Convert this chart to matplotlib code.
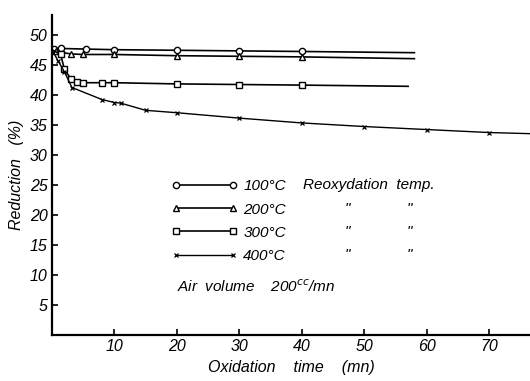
import matplotlib
matplotlib.use("Agg")
import matplotlib.pyplot as plt
from matplotlib.lines import Line2D

plt.rcParams['font.family'] = ['Liberation Sans', 'DejaVu Sans']
plt.rcParams['font.style'] = 'italic'

# 100 C reoxydation
t100 = [0.3, 1.5, 5.5, 10, 20, 30, 40, 58]
r100 = [47.6, 47.7, 47.6, 47.5, 47.4, 47.3, 47.2, 47.0]
# 200 C
t200 = [0.6, 3, 5, 10, 20, 30, 40, 58]
r200 = [47.2, 46.8, 46.7, 46.7, 46.5, 46.4, 46.3, 46.0]
# 300 C
t300 = [0, 1.4, 2, 3, 4, 5, 8, 10, 20, 30, 40, 57]
r300 = [47.5, 46.7, 44.2, 42.7, 42.2, 42.0, 42.0, 42.0, 41.8, 41.7, 41.6, 41.4]
# 400 C
t400 = [0, 1, 2, 3.2, 8, 10, 11, 15, 20, 30, 40, 50, 60, 70, 77]
r400 = [47.5, 45.6, 43.8, 41.2, 39.2, 38.7, 38.6, 37.4, 37.0, 36.1, 35.3, 34.7, 34.2, 33.7, 33.5]

xticks = [10, 20, 30, 40, 50, 60, 70]
yticks = [5, 10, 15, 20, 25, 30, 35, 40, 45, 50]
labels = ['100°C', '200°C', '300°C', '400°C']

fig = plt.figure(figsize=(5.30, 3.81), dpi=100)
ax = fig.add_axes([0.098, 0.121, 0.902, 0.84])

kw = dict(color='black', lw=1.2, mfc='white', mec='black', mew=1.0, ms=4.5)
xkw = dict(color='black', lw=1.0, ms=3.5, mew=0.9)
ax.plot(t100, r100, marker='o', markevery=list(range(len(t100) - 1)), **kw)
ax.plot(t200, r200, marker='^', markevery=list(range(len(t200) - 1)), **kw)
ax.plot(t300, r300, marker='s', markevery=list(range(1, len(t300) - 1)), **kw)
ax.plot(t400, r400, marker='x', markevery=list(range(1, len(t400) - 1)), **xkw)

ax.set_xlim(0, 76.5)
ax.set_ylim(0, 53.3)
ax.set_xticks(xticks)
ax.set_yticks(yticks)
ax.tick_params(direction='in', length=4, width=1.2, labelsize=11.5, pad=3)
for s in ['top', 'right']:
    ax.spines[s].set_visible(False)
for s in ['left', 'bottom']:
    ax.spines[s].set_linewidth(1.6)

ax.set_ylabel('Reduction   (%)', fontsize=11.5, labelpad=4)
ax.set_xlabel('Oxidation    time    (mn)', fontsize=11.5, labelpad=4)

handles = [
    Line2D([], [], marker='o', **kw),
    Line2D([], [], marker='^', **kw),
    Line2D([], [], marker='s', **kw),
    Line2D([], [], marker='x', **xkw),
]
ax.legend(handles, labels, loc='upper left', bbox_to_anchor=(0.25, 0.486),
          frameon=False, numpoints=2, handlelength=4.3, handletextpad=0.4,
          labelspacing=0.6, fontsize=11, borderpad=0, borderaxespad=0)

ax.text(0.525, 0.469, 'Reoxydation  temp.', transform=ax.transAxes,
        fontsize=11, va='center')
for yy in [0.394, 0.322, 0.25]:
    ax.text(0.612, yy, '"', transform=ax.transAxes, fontsize=11, va='center')
    ax.text(0.742, yy, '"', transform=ax.transAxes, fontsize=11, va='center')
ax.text(0.262, 0.15, 'Air  volume    200$^{cc}$/mn', transform=ax.transAxes,
        fontsize=11, va='center')

fig.savefig('out.png', dpi=100)
